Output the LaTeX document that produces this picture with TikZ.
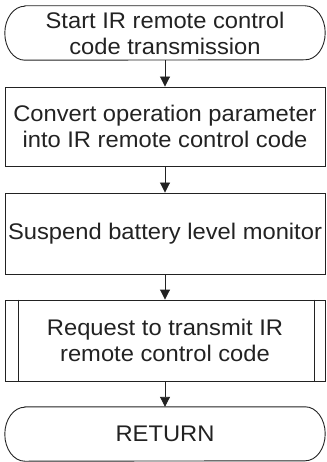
\documentclass[tikz,border=0pt]{standalone}
\usepackage{fontspec}
\setmainfont{Liberation Sans}[FakeStretch=1.05]
\usetikzlibrary{calc,arrows.meta}
\definecolor{ink}{HTML}{222222}
\begin{document}
\begin{tikzpicture}[x=1pt,y=-1pt,
  every node/.style={font=\fontsize{22.6}{26}\selectfont, text=ink, align=center, inner sep=0pt},
  procbox/.style={draw=ink, line width=0.9pt, minimum width=320pt},
  termbox/.style={minimum width=320pt, minimum height=54pt},
  termline/.style={draw=ink, line width=0.9pt},
  flow/.style={draw=ink, line width=0.9pt, -{Triangle[length=10pt,width=10pt]}}]
\useasboundingbox (0,0) rectangle (326,462);
\node[termbox] (start) at (165,33) {Start IR remote control\\code transmission};
\node[procbox, minimum height=79pt] (conv) at (165,126.5) {Convert operation parameter\\into IR remote control code};
\node[procbox, minimum height=81pt] (susp) at (165,233.5) {Suspend battery level monitor};
\node[procbox, minimum height=81pt] (req) at (165,340.5) {Request to transmit IR\\remote control code};
\node[termbox] (ret) at (165,434) {RETURN};
% terminal outlines with elliptical ends
\foreach \t in {start,ret}{
  \draw[termline] ($(\t.north west)+(20,0)$) -- ($(\t.north east)+(-20,0)$)
    arc[start angle=90, end angle=-90, x radius=20pt, y radius=27pt]
    -- ($(\t.south west)+(20,0)$)
    arc[start angle=270, end angle=90, x radius=20pt, y radius=27pt] -- cycle;
}
% subprocess inner lines
\draw[termline] ($(req.north west)+(14,0)$) -- ($(req.south west)+(14,0)$);
\draw[termline] ($(req.north east)+(-11,0)$) -- ($(req.south east)+(-11,0)$);
% connectors
\draw[flow] (start.south) -- (conv.north);
\draw[flow] (conv.south) -- (susp.north);
\draw[flow] (susp.south) -- (req.north);
\draw[flow] (req.south) -- (ret.north);
\end{tikzpicture}
\end{document}
